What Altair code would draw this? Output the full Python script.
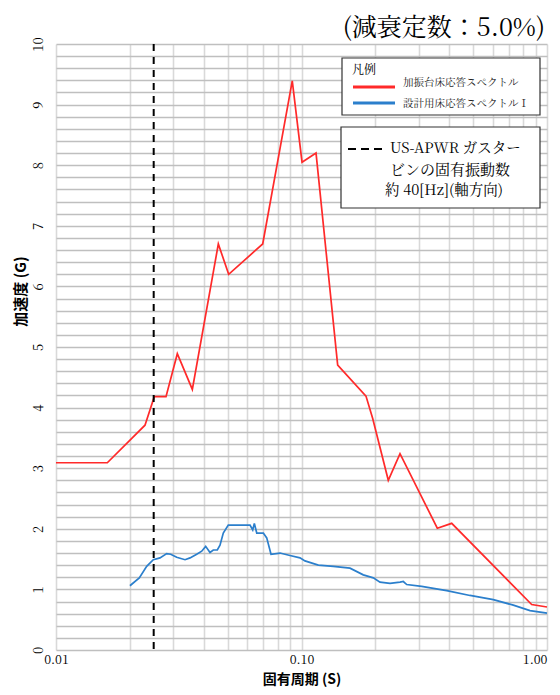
import altair as alt
import pandas as pd

# 加振台床応答スペクトル (red)
red_T = [0.01, 0.01618, 0.02304, 0.02514, 0.02806, 0.03120, 0.03592, 0.04584, 0.05051,
         0.0695, 0.0917, 0.1005, 0.1146, 0.1404, 0.1831, 0.1950, 0.2257, 0.2519, 0.3574,
         0.4091, 0.866, 1.0]
red_G = [3.09, 3.09, 3.71, 4.18, 4.18, 4.89, 4.30, 6.70, 6.20,
         6.70, 9.39, 8.05, 8.20, 4.70, 4.19, 3.82, 2.80, 3.24, 2.01,
         2.09, 0.75, 0.71]

# 設計用床応答スペクトルⅠ (blue)
blue_T = [0.0200, 0.02184, 0.02341, 0.02491, 0.02652, 0.02824, 0.02932, 0.03102, 0.03354, 0.03515,
          0.03742, 0.03922, 0.04071, 0.04239, 0.04372, 0.04540, 0.04656, 0.04802, 0.05032, 0.06170,
          0.06328, 0.06425, 0.06572, 0.06990, 0.07217, 0.07513, 0.08175, 0.08978, 0.09860, 0.1033,
          0.1171, 0.1348, 0.1576, 0.1785, 0.1961, 0.2088, 0.2294, 0.2519, 0.2598, 0.2683,
          0.3087, 0.3904, 0.4857, 0.6043, 0.7292, 0.8527, 1.0]
blue_G = [1.06, 1.19, 1.38, 1.49, 1.52, 1.59, 1.58, 1.53, 1.49, 1.52,
          1.58, 1.63, 1.71, 1.61, 1.65, 1.65, 1.73, 1.93, 2.06, 2.06,
          1.98, 2.09, 1.93, 1.93, 1.85, 1.58, 1.60, 1.56, 1.52, 1.47,
          1.40, 1.38, 1.35, 1.24, 1.19, 1.12, 1.10, 1.12, 1.13, 1.08,
          1.05, 0.98, 0.90, 0.83, 0.74, 0.65, 0.61]

# US-APWR gas turbine natural frequency ~40 Hz -> period 0.025 s
turbine_T = [0.025]

x_ticks = [0.01, 0.02, 0.03, 0.04, 0.05, 0.06, 0.07, 0.08, 0.09,
           0.1, 0.2, 0.3, 0.4, 0.5, 0.6, 0.7, 0.8, 0.9, 1.0]
y_ticks = [round(i * 0.2, 1) for i in range(51)]

title_text = "(減衰定数：5.0%)"
legend_title = "凡例"
legend_labels = ["加振台床応答スペクトル", "設計用床応答スペクトルⅠ"]
note_lines = ["US-APWR ガスター", "ビンの固有振動数", "約 40[Hz](軸方向)"]

SERIF = "'Noto Serif CJK JP', 'Liberation Serif', 'Noto Sans CJK JP'"
SANS = "'Noto Sans CJK JP'"

W, H = 491, 606

xenc = alt.X(
    "T:Q",
    scale=alt.Scale(type="log", domain=[0.01, 1.0]),
    axis=alt.Axis(
        values=x_ticks,
        labelExpr="(datum.value == 0.01 || datum.value == 0.1 || datum.value == 1) ? format(datum.value, '.2f') : ''",
        grid=True, gridColor="#d9d9d9", gridWidth=1.6,
        ticks=False, tickSize=0, domain=False,
        labelFont=SERIF, labelFontSize=12.5, labelColor="#000",
        labelPadding=9, labelFlush=False, labelBaseline="middle",
        labelAlign={"condition": {"test": "datum.value == 1", "value": "right"}, "value": "center"},
        title="固有周期 (S)", titleFont=SANS, titleFontSize=14, titleFontWeight="bold",
        titleColor="#000", titleBaseline="middle", titleY=29,
    ),
)
yenc = alt.Y(
    "G:Q",
    scale=alt.Scale(domain=[0, 10]),
    axis=alt.Axis(
        values=y_ticks,
        labelExpr="abs(datum.value - round(datum.value)) < 0.01 ? format(datum.value, 'd') : ''",
        grid=True, gridColor="#bfbfbf", gridWidth=1.6,
        ticks=False, tickSize=0, domain=False,
        labelFont=SERIF, labelFontSize=13, labelColor="#000",
        labelAngle=270, labelAlign="center", labelBaseline="bottom", labelPadding=11,
        title="加速度 (G)", titleFont=SANS, titleFontSize=15, titleFontWeight="bold",
        titleColor="#000", titleAngle=270, titleAlign="center", titleBaseline="middle",
        titleX=-36, titleY=247,
    ),
)

red_df = pd.DataFrame({"T": red_T, "G": red_G})
blue_df = pd.DataFrame({"T": blue_T, "G": blue_G})
turb_df = pd.DataFrame({"T": turbine_T})
one = pd.DataFrame({"a": [0]})

red = alt.Chart(red_df).mark_line(color="#ff2a2a", strokeWidth=1.7).encode(x=xenc, y=yenc)
blue = alt.Chart(blue_df).mark_line(color="#2b7fcc", strokeWidth=1.7).encode(x=xenc, y=yenc)
vline = alt.Chart(turb_df).mark_rule(color="#000", strokeWidth=2, strokeDash=[7, 6]).encode(x=xenc)

title = alt.Chart(one).mark_text(text=title_text, font=SERIF, fontSize=25, align="right",
                                 baseline="middle", color="#000").encode(
    x=alt.value(489), y=alt.value(-16))

leg_box = alt.Chart(one).mark_rect(fill="white", stroke="#333", strokeWidth=1.2).encode(
    x=alt.value(286), x2=alt.value(484), y=alt.value(14), y2=alt.value(71))
leg_title = alt.Chart(one).mark_text(text=legend_title, font=SERIF, fontSize=12, align="left",
                                     baseline="middle", color="#000").encode(
    x=alt.value(296), y=alt.value(26))
leg_red = alt.Chart(one).mark_rule(color="#ff2a2a", strokeWidth=3).encode(
    x=alt.value(297), x2=alt.value(339), y=alt.value(43))
leg_blue = alt.Chart(one).mark_rule(color="#2b7fcc", strokeWidth=3).encode(
    x=alt.value(297), x2=alt.value(339), y=alt.value(59))
leg_t1 = alt.Chart(one).mark_text(text=legend_labels[0], font=SERIF, fontSize=10.5, align="left",
                                  baseline="middle", color="#222").encode(
    x=alt.value(347), y=alt.value(39))
leg_t2 = alt.Chart(one).mark_text(text=legend_labels[1], font=SERIF, fontSize=10.5, align="left",
                                  baseline="middle", color="#222").encode(
    x=alt.value(347), y=alt.value(60))

note_box = alt.Chart(one).mark_rect(fill="white", stroke="#333", strokeWidth=1.2).encode(
    x=alt.value(285), x2=alt.value(484), y=alt.value(83), y2=alt.value(164))
note_dash = alt.Chart(one).mark_rule(color="#000", strokeWidth=2, strokeDash=[8, 5]).encode(
    x=alt.value(292), x2=alt.value(327), y=alt.value(105))
note_1 = alt.Chart(one).mark_text(text=note_lines[0], font=SERIF, fontSize=14.5, align="left",
                                  baseline="middle", color="#000").encode(
    x=alt.value(334), y=alt.value(105))
note_2 = alt.Chart(one).mark_text(text=note_lines[1], font=SERIF, fontSize=15, align="left",
                                  baseline="middle", color="#000").encode(
    x=alt.value(334), y=alt.value(126))
note_3 = alt.Chart(one).mark_text(text=note_lines[2], font=SERIF, fontSize=14.5, align="left",
                                  baseline="middle", color="#000").encode(
    x=alt.value(329), y=alt.value(147))

chart = alt.layer(
    red, blue, vline, title,
    leg_box, leg_title, leg_red, leg_blue, leg_t1, leg_t2,
    note_box, note_dash, note_1, note_2, note_3,
).properties(
    width=W, height=H,
    padding={"left": 48, "top": 36, "right": 5, "bottom": 37},
    autosize=alt.AutoSizeParams(type="none"),
    background="white",
).configure_view(stroke=None)

chart.save("out.html", embed_options={"renderer": "svg", "actions": False})
